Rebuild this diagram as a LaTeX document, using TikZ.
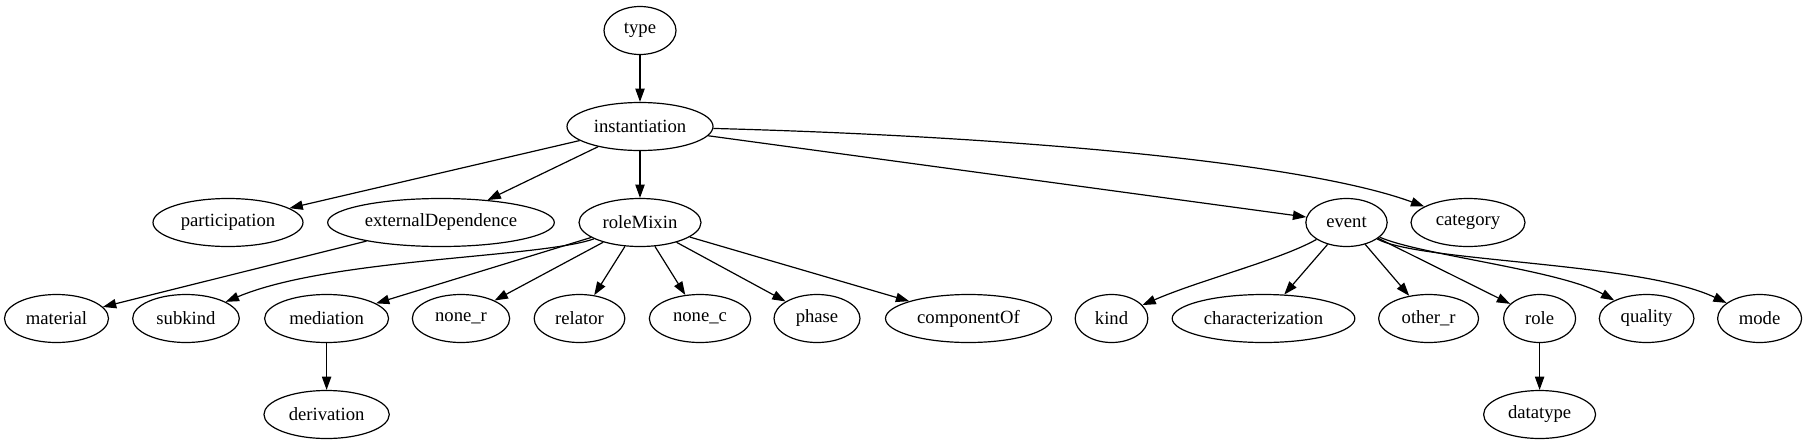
\documentclass[tikz,border=0pt]{standalone}
\usepackage{fontspec}
\setmainfont{Liberation Serif}
\usetikzlibrary{shapes.geometric,arrows.meta}
\begin{document}
\begin{tikzpicture}[x=0.75pt,y=-0.75pt,
  gnode/.style={ellipse, draw, line width=0.9pt, inner sep=0pt, minimum height=36pt,
    font=\fontsize{14}{16.8}\selectfont},
  gedge/.style={line width=0.9pt, -{Triangle[length=10pt,width=7pt]}}]
\useasboundingbox (0,0) rectangle (1808,443);
% rank 0
\node[gnode, minimum width=54pt] (type) at (640,30.5) {type};
% rank 1
\node[gnode, minimum width=109.5pt] (inst) at (640,126.5) {instantiation};
% rank 2
\node[gnode, minimum width=112.5pt] (part) at (228,222.5) {participation};
\node[gnode, minimum width=170pt] (ext) at (441,222.5) {externalDependence};
\node[gnode, minimum width=91.5pt] (rm) at (640,222.5) {roleMixin};
\node[gnode, minimum width=61pt] (event) at (1346.5,222.5) {event};
\node[gnode, minimum width=85.5pt] (cat) at (1468,222.5) {category};
% rank 3
\node[gnode, minimum width=78pt] (mat) at (56.5,318.5) {material};
\node[gnode, minimum width=80pt] (sub) at (186,318.5) {subkind};
\node[gnode, minimum width=93pt] (med) at (326.6,318.5) {mediation};
\node[gnode, minimum width=73pt] (nr) at (461,318.5) {none\_r};
\node[gnode, minimum width=68pt] (rel) at (579.5,318.5) {relator};
\node[gnode, minimum width=76pt] (nc) at (700,318.5) {none\_c};
\node[gnode, minimum width=64.5pt] (phase) at (817,318.5) {phase};
\node[gnode, minimum width=124.5pt] (comp) at (968.5,318.5) {componentOf};
\node[gnode, minimum width=54.5pt] (kind) at (1111.5,318.5) {kind};
\node[gnode, minimum width=137pt] (char) at (1263.5,318.5) {characterization};
\node[gnode, minimum width=75pt] (other) at (1428.6,318.5) {other\_r};
\node[gnode, minimum width=54pt] (role) at (1539.6,318.5) {role};
\node[gnode, minimum width=71pt] (qual) at (1646.6,318.5) {quality};
\node[gnode, minimum width=63pt] (mode) at (1759.6,318.5) {mode};
% rank 4
\node[gnode, minimum width=94pt] (der) at (326.6,414.5) {derivation};
\node[gnode, minimum width=84pt] (dt) at (1539.6,414.5) {datatype};
% edges
\draw[gedge] (type) -- (inst);
\draw[gedge] (inst) -- (part);
\draw[gedge] (inst) -- (ext);
\draw[gedge] (inst) -- (rm);
\draw[gedge] (inst) -- (event);
\draw[gedge] (inst) .. controls (1000,136) and (1300,161) .. (cat);
\draw[gedge] (ext) -- (mat);
\draw[gedge] (rm) .. controls (540,258) and (330,258) .. (sub);
\draw[gedge] (rm) -- (med);
\draw[gedge] (rm) -- (nr);
\draw[gedge] (rm) -- (rel);
\draw[gedge] (rm) -- (nc);
\draw[gedge] (rm) -- (phase);
\draw[gedge] (rm) -- (comp);
\draw[gedge] (med) -- (der);
\draw[gedge] (event) .. controls (1280,260) and (1200,280) .. (kind);
\draw[gedge] (event) -- (char);
\draw[gedge] (event) -- (other);
\draw[gedge] (event) -- (role);
\draw[gedge] (event) .. controls (1420,255) and (1560,270) .. (qual);
\draw[gedge] (event) .. controls (1420,262) and (1640,262) .. (mode);
\draw[gedge] (role) -- (dt);
\end{tikzpicture}
\end{document}
